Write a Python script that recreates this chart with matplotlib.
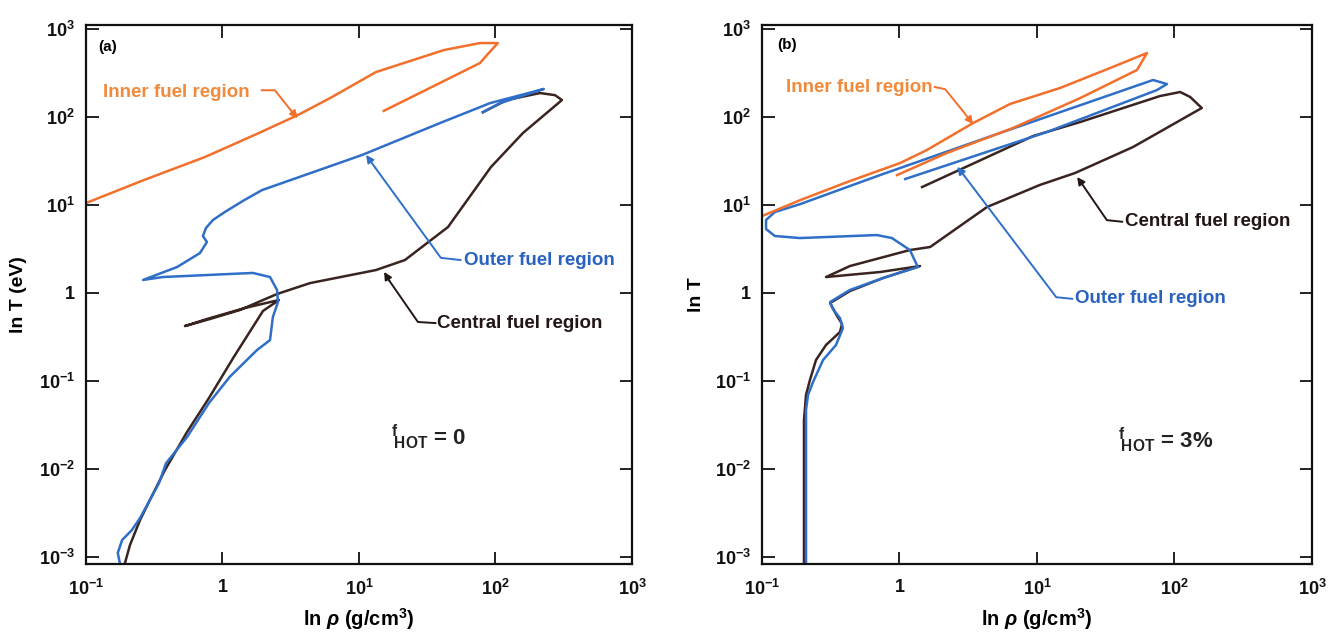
import matplotlib
matplotlib.use('Agg')
import matplotlib.pyplot as plt
from matplotlib.ticker import NullLocator, FixedLocator, FixedFormatter

plt.rcParams['font.family'] = ['Liberation Sans', 'DejaVu Sans']
plt.rcParams['font.weight'] = 'bold'
plt.rcParams['mathtext.fontset'] = 'custom'
plt.rcParams['mathtext.rm'] = 'Liberation Sans:bold'
plt.rcParams['mathtext.bf'] = 'Liberation Sans:bold'
plt.rcParams['mathtext.it'] = 'Liberation Sans:bold:italic'

# ---------------- data (density g/cm^3, temperature eV) ----------------
# Panel (a): f_HOT = 0
inner_a_rho = [0.1, 0.266, 0.745, 1.85, 3.57, 6.14, 13.3, 42.0, 76.9, 104, 86.7, 76.9, 15.2]
inner_a_T = [10.4, 19.0, 34.7, 65.0, 104, 162, 320, 570, 684, 684, 500, 405, 116]

outer_a_rho = [0.177, 0.171, 0.184, 0.217, 0.249, 0.343, 0.386, 0.550, 0.796, 1.13, 1.79,
               2.23, 2.34, 2.55, 2.51, 2.23, 1.67, 0.366, 0.262, 0.465, 0.684, 0.769,
               0.719, 0.757, 0.851, 1.04, 1.44, 1.95, 10.5, 39.2, 91.2, 212, 226, 108, 80.9]
outer_a_T = [0.000843, 0.00110, 0.00154, 0.00200, 0.00274, 0.00684, 0.0115, 0.0228, 0.0555,
             0.110, 0.222, 0.288, 0.527, 0.780, 1.07, 1.50, 1.67, 1.50, 1.39, 1.95, 2.81,
             3.75, 4.39, 5.41, 6.67, 8.22, 11.2, 14.6, 36.5, 84.3, 142, 200, 206, 142, 112]

central_a_rho = [0.193, 0.210, 0.249, 0.294, 0.379, 0.550, 0.796, 1.21, 1.98, 2.59, 1.46,
                 0.769, 0.531, 0.809, 1.34, 2.51, 4.38, 13.3, 21.7, 44.9, 92.7, 159, 307,
                 273, 212, 121, 80.9]
central_a_T = [0.000843, 0.00135, 0.00260, 0.00439, 0.00962, 0.0260, 0.0632, 0.185, 0.617,
               0.822, 0.667, 0.500, 0.416, 0.500, 0.633, 0.962, 1.28, 1.80, 2.34, 5.55,
               26.7, 65.0, 154, 175, 185, 154, 112]

# Panel (b): f_HOT = 3%
inner_b_rho = [0.1, 0.189, 0.436, 1.01, 1.58, 3.43, 6.37, 14.7, 33.9, 63.1, 53.4, 20.6,
               6.68, 2.21, 0.959]
inner_b_T = [7.40, 11.2, 18.5, 29.6, 41.6, 84.3, 139, 211, 355, 527, 338, 162, 74.0, 38.5,
             21.6]

outer_b_rho = [0.209, 0.209, 0.216, 0.235, 0.278, 0.345, 0.388, 0.369, 0.328, 0.313, 0.436,
               0.759, 1.36, 1.19, 0.881, 0.686, 0.189, 0.124, 0.107, 0.107, 0.124, 0.189,
               0.721, 5.38, 69.8, 88.2, 74.6, 11.8, 1.10]
outer_b_T = [0.000843, 0.0462, 0.0684, 0.0962, 0.171, 0.253, 0.395, 0.513, 0.649, 0.780,
             1.07, 1.46, 1.95, 3.04, 4.16, 4.50, 4.16, 4.39, 5.27, 6.67, 8.22, 10.1, 21.6,
             65.0, 260, 234, 200, 66.7, 19.5]

central_b_rho = [0.202, 0.202, 0.209, 0.223, 0.247, 0.292, 0.369, 0.382, 0.345, 0.313,
                 0.436, 0.759, 1.41, 0.721, 0.292, 0.436, 1.19, 1.67, 4.33, 10.5, 18.9,
                 49.9, 158, 130, 110, 78.5, 20.6, 9.36, 1.46]
central_b_T = [0.000843, 0.0356, 0.0684, 0.101, 0.171, 0.253, 0.356, 0.439, 0.570, 0.760,
               1.04, 1.46, 2.00, 1.71, 1.50, 2.00, 3.04, 3.29, 9.37, 16.7, 22.8, 45.0, 125,
               167, 190, 171, 86.6, 60.0, 15.8]

x_ticks = [0.1, 1, 10, 100, 1000]
x_tick_labels = [r'$10^{-1}$', '1', r'$10^{1}$', r'$10^{2}$', r'$10^{3}$']
y_ticks = [1e-3, 1e-2, 1e-1, 1, 10, 100, 1000]
y_tick_labels = [r'$10^{-3}$', r'$10^{-2}$', r'$10^{-1}$', '1', r'$10^{1}$', r'$10^{2}$',
                 r'$10^{3}$']

# ---------------- style ----------------
C_INNER = '#f2702c'
C_OUTER = '#2f6fc8'
C_CENTRAL = '#3a2420'
T_INNER = '#f08a3c'
T_OUTER = '#2a62c0'
T_CENTRAL = '#221715'
LW = 1.8
FS_LABEL = 13.5

fig = plt.figure(figsize=(13.31, 6.32), dpi=100)
ax_a = fig.add_axes([0.0646, 0.1076, 0.4102, 0.8528])
ax_b = fig.add_axes([0.5725, 0.1076, 0.4132, 0.8528])


def setup(ax, ylabel):
    ax.set_xscale('log')
    ax.set_yscale('log')
    ax.set_xlim(0.1, 1000)
    ax.set_ylim(10 ** -3.085, 10 ** 3.04)
    ax.xaxis.set_major_locator(FixedLocator(x_ticks))
    ax.xaxis.set_major_formatter(FixedFormatter(x_tick_labels))
    ax.yaxis.set_major_locator(FixedLocator(y_ticks))
    ax.yaxis.set_major_formatter(FixedFormatter(y_tick_labels))
    ax.xaxis.set_minor_locator(NullLocator())
    ax.yaxis.set_minor_locator(NullLocator())
    ax.tick_params(direction='in', length=9, width=1.3, top=True, right=True,
                   labelsize=13, colors='#111111')
    ax.tick_params(axis='x', pad=11)
    ax.tick_params(axis='y', pad=8)
    for s in ax.spines.values():
        s.set_linewidth(1.6)
        s.set_color('#111111')
    ax.set_xlabel(r'ln $\rho$ (g/cm$^{3}$)', fontsize=14.5, fontweight='bold', labelpad=5)
    ax.set_ylabel(ylabel, fontsize=14, fontweight='bold')


def leader(ax, pts, color):
    xs = [p[0] for p in pts]
    ys = [p[1] for p in pts]
    ax.plot(xs[:-1], ys[:-1], color=color, lw=1.4, transform=ax.transAxes, clip_on=False)
    ax.annotate('', xy=pts[-1], xytext=pts[-2], xycoords='axes fraction',
                textcoords='axes fraction',
                arrowprops=dict(arrowstyle='-|>', color=color, lw=1.4, mutation_scale=11,
                                shrinkA=0, shrinkB=0))


setup(ax_a, 'ln T (eV)')
setup(ax_b, 'ln T')
ax_a.yaxis.set_label_coords(-0.108, 0.5)
ax_b.yaxis.set_label_coords(-0.103, 0.5)

# Panel (a)
ax_a.plot(central_a_rho, central_a_T, color=C_CENTRAL, lw=LW)
ax_a.plot(outer_a_rho, outer_a_T, color=C_OUTER, lw=LW)
ax_a.plot(inner_a_rho, inner_a_T, color=C_INNER, lw=LW)

ax_a.text(0.022, 0.959, '(a)', transform=ax_a.transAxes, fontsize=11, ha='left', va='center')
ax_a.text(0.031, 0.874, 'Inner fuel region', transform=ax_a.transAxes, fontsize=FS_LABEL,
          color=T_INNER, ha='left', va='center')
leader(ax_a, [(0.322, 0.879), (0.346, 0.879), (0.375, 0.842), (0.388, 0.827)], C_INNER)
ax_a.text(0.692, 0.564, 'Outer fuel region', transform=ax_a.transAxes, fontsize=FS_LABEL,
          color=T_OUTER, ha='left', va='center')
leader(ax_a, [(0.686, 0.564), (0.650, 0.568), (0.530, 0.735), (0.513, 0.759)], C_OUTER)
ax_a.text(0.643, 0.447, 'Central fuel region', transform=ax_a.transAxes, fontsize=FS_LABEL,
          color=T_CENTRAL, ha='left', va='center')
leader(ax_a, [(0.640, 0.447), (0.608, 0.449), (0.556, 0.525), (0.546, 0.542)], T_CENTRAL)
ax_a.text(0.559, 0.236, r'$^{\mathrm{f}}\!\mathrm{_{HOT}}$ = 0', transform=ax_a.transAxes,
          fontsize=16, color='#222222', ha='left', va='center')

# Panel (b)
ax_b.plot(central_b_rho, central_b_T, color=C_CENTRAL, lw=LW)
ax_b.plot(outer_b_rho, outer_b_T, color=C_OUTER, lw=LW)
ax_b.plot(inner_b_rho, inner_b_T, color=C_INNER, lw=LW)

ax_b.text(0.027, 0.963, '(b)', transform=ax_b.transAxes, fontsize=11, ha='left', va='center')
ax_b.text(0.311, 0.885, 'Inner fuel region', transform=ax_b.transAxes, fontsize=FS_LABEL,
          color=T_INNER, ha='right', va='center')
leader(ax_b, [(0.314, 0.885), (0.333, 0.881), (0.364, 0.842), (0.384, 0.816)], C_INNER)
ax_b.text(0.569, 0.492, 'Outer fuel region', transform=ax_b.transAxes, fontsize=FS_LABEL,
          color=T_OUTER, ha='left', va='center')
leader(ax_b, [(0.564, 0.492), (0.535, 0.495), (0.368, 0.720), (0.355, 0.737)], C_OUTER)
ax_b.text(0.660, 0.635, 'Central fuel region', transform=ax_b.transAxes, fontsize=FS_LABEL,
          color=T_CENTRAL, ha='left', va='center')
leader(ax_b, [(0.655, 0.635), (0.627, 0.638), (0.582, 0.705), (0.573, 0.718)], T_CENTRAL)
ax_b.text(0.647, 0.230, r'$^{\mathrm{f}}\!\mathrm{_{HOT}}$ = 3%', transform=ax_b.transAxes,
          fontsize=16, color='#222222', ha='left', va='center')

fig.savefig('out.png', dpi=100, facecolor='white')
